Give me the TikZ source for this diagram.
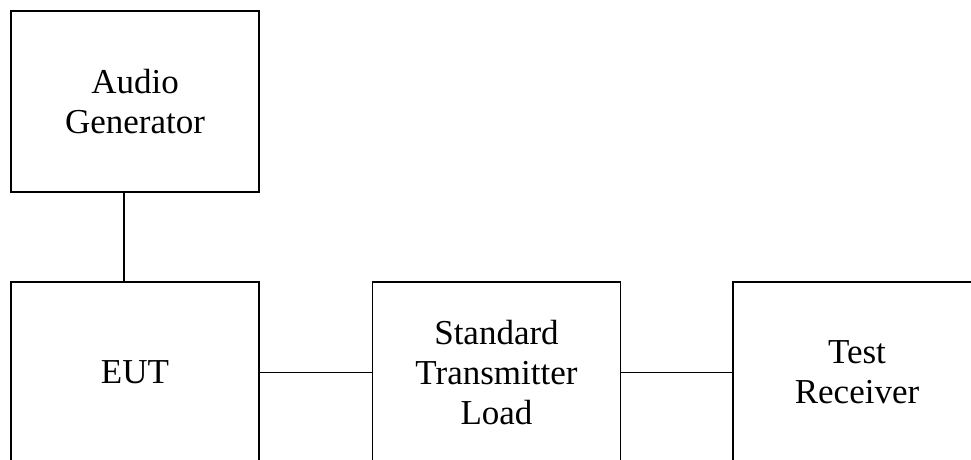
\documentclass[tikz,border=0pt]{standalone}
\usepackage{fontspec}
\setmainfont{Liberation Serif}
\begin{document}
\begin{tikzpicture}[x=1pt,y=-1pt,
	unit/.style={draw,line width=1.2pt,minimum width=248pt,minimum height=181pt,
		align=center,font=\fontsize{35}{40}\selectfont}]
	
	% Khung ảnh
	\useasboundingbox (0,0) rectangle (971,460);
	
	% Các khối thiết bị
	\node[unit] (audio) at (135,101.5) {Audio\\Generator};
	\node[unit] (eut) at (135,372.5) {EUT};
	\node[unit] (load) at (496.5,372.5) {Standard\\Transmitter\\Load};
	\node[unit] (receiver) at (857,372.5) {Test\\Receiver};
	
	% Dây nối
	\draw[line width=1.2pt] ([xshift=-11pt]audio.south) -- ([xshift=-11pt]eut.north);
	\draw[line width=1.2pt] (eut.east) -- (load.west);
	\draw[line width=1.2pt] (load.east) -- (receiver.west);
	
\end{tikzpicture}
\end{document}
